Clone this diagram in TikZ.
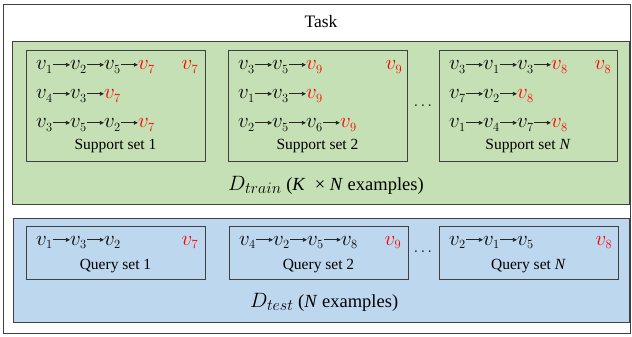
\RequirePackage{fix-cm}
\documentclass[tikz,border=0pt]{standalone}
\usepackage{fontspec}
\setmainfont{Liberation Serif}
\usetikzlibrary{arrows.meta,positioning}
\DeclareMathSizes{21}{21}{12.5}{10}
\DeclareMathSizes{20.74}{20.74}{16}{12}
\definecolor{gfill}{HTML}{C5E0B4}
\definecolor{bfill}{HTML}{BDD7EE}
\definecolor{edge}{HTML}{404040}
\newcommand{\rv}[1]{\textcolor{red}{#1}}
\newcommand{\vgap}{17pt}
\newcommand{\seqrow}[3]{%
  \foreach \sym [count=\i, remember=\i as \j (initially 0)] in {#3} {%
    \ifnum\i=1\relax
      \node[var] (#1-\i) at (#2) {$\sym$};
    \else
      \node[var, right=\vgap of #1-\j] (#1-\i) {$\sym$};
      \draw[arr] ([yshift=-4pt]#1-\j.north east) -- ([yshift=-4pt]#1-\i.north west);
    \fi
  }}
\begin{document}
\begin{tikzpicture}[x=1pt,y=-1pt,
  setbox/.style={draw=edge, line width=0.8pt, inner sep=0pt},
  var/.style={inner sep=0pt, font=\fontsize{21}{24}\selectfont, text height=9pt, text depth=4pt, anchor=west},
  arr/.style={draw=black!85, line width=0.7pt, -{Triangle[length=4pt,width=3.8pt]}},
  lbl/.style={font=\fontsize{15.5}{18}\selectfont, inner sep=0pt},
  big/.style={font=\fontsize{18.5}{22}\selectfont, inner sep=0pt},
  dots/.style={font=\fontsize{15.5}{18}\selectfont, inner sep=0pt}]
\useasboundingbox (0,0) rectangle (632,337);
% frames
\node[setbox, fill=white, minimum width=627pt, minimum height=329.5pt] (task) at (317,168.75) {};
\node[big] (tasklbl) at (321,22) {\fontsize{17.5}{20}\selectfont Task};
\node[setbox, fill=gfill, minimum width=617pt, minimum height=163pt] (train) at (320.5,122.5) {};
\node[setbox, fill=bfill, minimum width=616pt, minimum height=104pt] (test) at (321,270) {};
% support boxes
\node[setbox, minimum width=179pt, minimum height=111pt] (s1) at (115.5,105.5) {};
\node[setbox, minimum width=179pt, minimum height=111pt] (s2) at (317.5,106) {};
\node[setbox, minimum width=178pt, minimum height=111pt] (sn) at (528,106) {};
% query boxes
\node[setbox, minimum width=179pt, minimum height=53pt] (q1) at (115.5,252.5) {};
\node[setbox, minimum width=179pt, minimum height=53pt] (q2) at (318.5,252.5) {};
\node[setbox, minimum width=179pt, minimum height=53pt] (qn) at (528.5,252.5) {};
% support set 1
\seqrow{s1a}{36,67.5}{v_1,v_2,v_5,\rv{v_7}}
\seqrow{s1b}{36,96.5}{v_4,v_3,\rv{v_7}}
\seqrow{s1c}{36,125.5}{v_3,v_5,v_2,\rv{v_7}}
\node[var, anchor=east, xshift=-7pt] (s1t) at (s1.east |- s1a-1.west) {$\rv{v_7}$};
\node[lbl] (s1l) at (115.5,146) {Support set 1};
% support set 2
\seqrow{s2a}{238,67.5}{v_3,v_5,\rv{v_9}}
\seqrow{s2b}{238,96.5}{v_1,v_3,\rv{v_9}}
\seqrow{s2c}{238,125.5}{v_2,v_5,v_6,\rv{v_9}}
\node[var, anchor=east, xshift=-5pt] (s2t) at (s2.east |- s2a-1.west) {$\rv{v_9}$};
\node[lbl] (s2l) at (317.5,146) {Support set 2};
% support set N
\seqrow{sna}{449,67.5}{v_3,v_1,v_3,\rv{v_8}}
\seqrow{snb}{449,96.5}{v_7,v_2,\rv{v_8}}
\seqrow{snc}{449,125.5}{v_1,v_4,v_7,\rv{v_8}}
\node[var, anchor=east, xshift=-6pt] (snt) at (sn.east |- sna-1.west) {$\rv{v_8}$};
\node[lbl] (snl) at (528,146) {Support set \textit{N}};
\node[dots] (sdots) at (423,106) {$\cdots$};
% train label
\node[big, anchor=west] (trainlbl) at (228,185) {\fontsize{20.74}{24}\selectfont$D_{train}$\fontsize{18.5}{22}\selectfont\ (\textit{K} \ \texttimes\ \textit{N} examples)};
% queries
\seqrow{q1a}{36,242.5}{v_1,v_3,v_2}
\node[var, anchor=east, xshift=-7pt] (q1t) at (q1.east |- q1a-1.west) {$\rv{v_7}$};
\node[lbl] (q1l) at (115.5,266) {Query set 1};
\seqrow{q2a}{239,242.5}{v_4,v_2,v_5,v_8}
\node[var, anchor=east, xshift=-7pt] (q2t) at (q2.east |- q2a-1.west) {$\rv{v_9}$};
\node[lbl] (q2l) at (318.5,266) {Query set 2};
\seqrow{qna}{449,242.5}{v_2,v_1,v_5}
\node[var, anchor=east, xshift=-6pt] (qnt) at (qn.east |- qna-1.west) {$\rv{v_8}$};
\node[lbl] (qnl) at (528.5,266) {Query set \textit{N}};
\node[dots] (qdots) at (423,252) {$\cdots$};
\node[big, anchor=west] (testlbl) at (250,302) {\fontsize{20.74}{24}\selectfont$D_{test}$\fontsize{18.5}{22}\selectfont\ (\textit{N} examples)};
\end{tikzpicture}
\end{document}
